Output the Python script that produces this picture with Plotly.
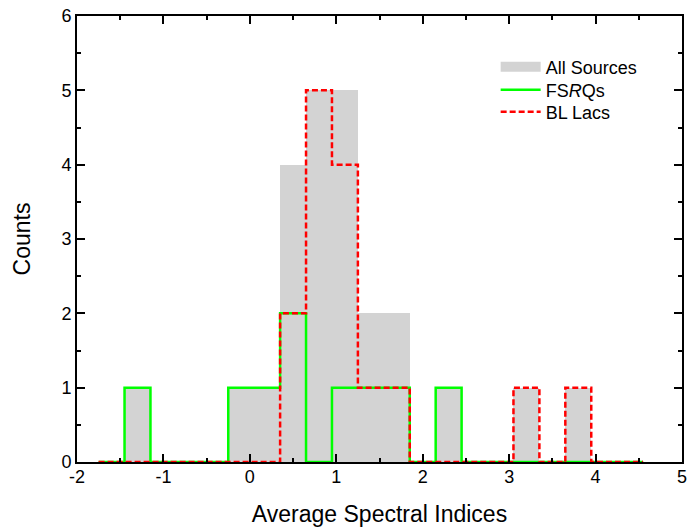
import plotly.graph_objects as go

# Histogram bins (width 0.3)
bin_edges = [-1.75, -1.45, -1.15, -0.85, -0.55, -0.25, 0.05, 0.35, 0.65, 0.95,
             1.25, 1.55, 1.85, 2.15, 2.45, 2.75, 3.05, 3.35, 3.65, 3.95, 4.25, 4.55]
fsrq_counts = [0, 1, 0, 0, 0, 1, 1, 2, 0, 1, 1, 1, 0, 1, 0, 0, 0, 0, 0, 0, 0]
bllac_counts = [0, 0, 0, 0, 0, 0, 0, 2, 5, 4, 1, 1, 0, 0, 0, 0, 1, 0, 1, 0, 0]
all_counts = [f + b for f, b in zip(fsrq_counts, bllac_counts)]

x_ticks = [-2, -1, 0, 1, 2, 3, 4, 5]
y_ticks = [0, 1, 2, 3, 4, 5, 6]

centers = [(a + b) / 2 for a, b in zip(bin_edges[:-1], bin_edges[1:])]
widths = [b - a for a, b in zip(bin_edges[:-1], bin_edges[1:])]

def step(counts):
    xs = list(bin_edges[:-1]) + [bin_edges[-1]]
    ys = list(counts) + [counts[-1]]
    return xs, ys

GRAY = "#d3d3d3"
fig = go.Figure()
fig.add_trace(go.Bar(x=centers, y=all_counts, width=widths, name="All Sources",
                     marker=dict(color=GRAY, line=dict(width=0)), showlegend=False))
# legend entry for the gray bars (wide rectangle swatch)
fig.add_trace(go.Scatter(x=[None], y=[None], mode="lines", name="All Sources",
                         line=dict(color=GRAY, width=20), legend="legend"))
fx, fy = step(fsrq_counts)
fig.add_trace(go.Scatter(x=fx, y=fy, mode="lines", name="FS<i>R</i>Qs", legend="legend2",
                         line=dict(color="#00ff00", width=2.5, shape="hv")))
bx, by = step(bllac_counts)
fig.add_trace(go.Scatter(x=bx, y=by, mode="lines", name="BL Lacs", legend="legend3",
                         line=dict(color="#ff0000", width=2.5, shape="hv", dash="6px,3px")))

font = "Liberation Sans, Arial, sans-serif"
axis_common = dict(showline=True, linecolor="black", linewidth=2, mirror="ticks",
                   ticks="inside", ticklen=8, tickwidth=1.5, tickcolor="black",
                   showgrid=False, zeroline=False, automargin=False,
                   ticklabeloverflow="allow",
                   tickfont=dict(family=font, size=18, color="black"))
fig.update_xaxes(range=[-2, 5], tickvals=x_ticks, ticktext=[str(v) for v in x_ticks],
                 minor=dict(dtick=0.5, tick0=0, ticks="inside", ticklen=4, tickcolor="black", tickwidth=1.5),
                 ticklabelstandoff=-3,
                 title=dict(text="Average Spectral Indices", font=dict(family=font, size=23, color="black"),
                            standoff=20),
                 **axis_common)
fig.update_yaxes(range=[0, 6], tickvals=y_ticks, ticktext=[str(v) for v in y_ticks],
                 minor=dict(dtick=0.5, tick0=0, ticks="inside", ticklen=4, tickcolor="black", tickwidth=1.5),
                 title=dict(text="Counts", font=dict(family=font, size=23, color="black"), standoff=24),
                 **axis_common)

W, H = 687, 529
H0, H1 = 16, 462  # plot area top/bottom in px
def py(pix):
    return (H1 - pix) / (H1 - H0)

leg = dict(x=0.692, xanchor="left", yanchor="middle", bgcolor="rgba(0,0,0,0)",
           font=dict(family=font, size=18, color="black"), itemwidth=40)
fig.update_layout(width=W, height=H,
                  margin=dict(l=77, r=5, t=H0, b=H - H1, autoexpand=False),
                  plot_bgcolor="white", paper_bgcolor="white", bargap=0,
                  font=dict(family=font, color="black"),
                  legend=dict(y=py(67), **leg),
                  legend2=dict(y=py(90), **leg),
                  legend3=dict(y=py(112), **leg))
fig.write_html("out.html", config={"displayModeBar": False},
               post_script="document.body.style.margin='0';document.body.style.overflow='hidden';")
